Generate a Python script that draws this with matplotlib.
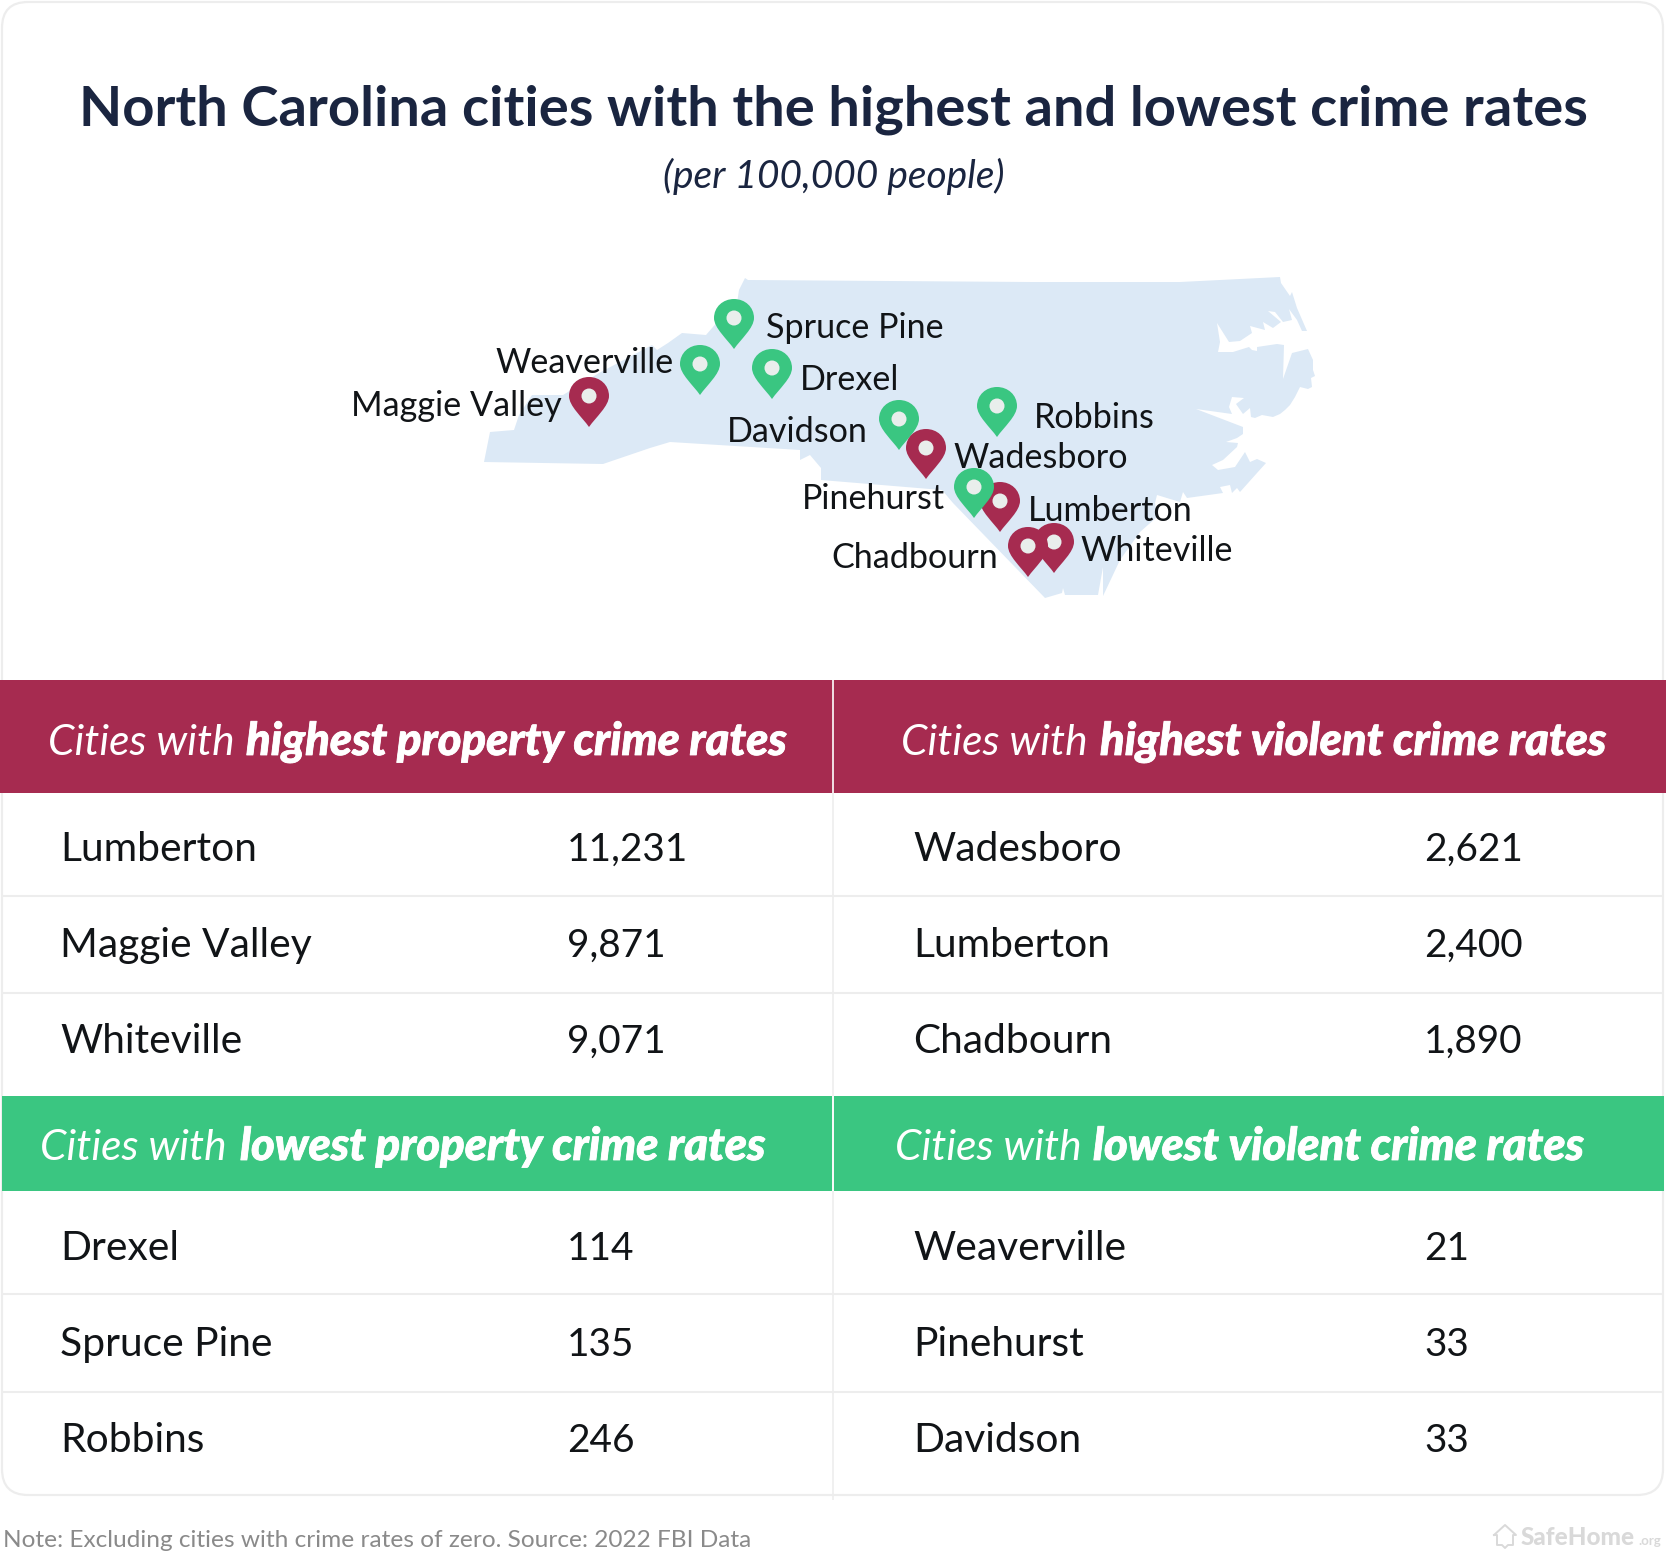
import matplotlib
matplotlib.use('Agg')
import matplotlib.pyplot as plt
import matplotlib.patheffects as pe
from matplotlib.patches import FancyBboxPatch, PathPatch, Polygon, Circle, Rectangle
from matplotlib.path import Path

plt.rcParams['font.family'] = ['Lato', 'DejaVu Sans']

# Table contents
prop_high_cities = ['Lumberton', 'Maggie Valley', 'Whiteville']
prop_high_values = ['11,231', '9,871', '9,071']
viol_high_cities = ['Wadesboro', 'Lumberton', 'Chadbourn']
viol_high_values = ['2,621', '2,400', '1,890']
prop_low_cities = ['Drexel', 'Spruce Pine', 'Robbins']
prop_low_values = ['114', '135', '246']
viol_low_cities = ['Weaverville', 'Pinehurst', 'Davidson']
viol_low_values = ['21', '33', '33']

# Pins on the map (tip of the pin, image pixels), in drawing order
pin_cities = ['Spruce Pine', 'Weaverville', 'Drexel', 'Maggie Valley', 'Robbins', 'Davidson',
              'Wadesboro', 'Lumberton', 'Pinehurst', 'Whiteville', 'Chadbourn']
pin_x = [734, 700, 772, 589, 997, 899, 926, 1000, 974, 1054, 1028]
pin_y = [349, 395, 399, 427, 437, 450, 479, 532, 518, 573, 577]
pin_kind = ['low', 'low', 'low', 'high', 'low', 'low', 'high', 'high', 'low', 'high', 'high']

# Map labels: left edge and baseline
label_x = [766, 495, 800, 351, 1034, 727, 953, 1028, 802, 1080, 831]
label_y = [338, 373, 390, 416, 428, 442, 468, 521, 509, 561, 568]

# North Carolina outline
nc_x = [745, 748, 1030, 1180, 1280, 1281, 1290, 1292, 1297, 1307, 1302, 1297, 1289, 1292, 1283, 1275,
        1268, 1281, 1273, 1263, 1265, 1250, 1252, 1240, 1229, 1217, 1220, 1218, 1233, 1249, 1252, 1257,
        1257, 1277, 1284, 1283, 1292, 1308, 1313, 1313, 1315, 1311, 1312, 1308, 1300, 1295, 1290, 1285,
        1280, 1273, 1262, 1255, 1251, 1250, 1243, 1236, 1244, 1232, 1229, 1232, 1196, 1243, 1243, 1237,
        1226, 1238, 1237, 1223, 1212, 1218, 1235, 1245, 1250, 1257, 1266, 1257, 1240, 1237, 1232, 1230,
        1220, 1223, 1187, 1183, 1180, 1157, 1155, 1157, 1140, 1120, 1112, 1103, 1103, 1098, 1065, 1063,
        1062, 1045, 953, 942, 821, 821, 810, 800, 800, 670, 650, 603, 484, 490, 514, 519, 532, 563, 599,
        652, 657, 668, 682, 706, 719, 737, 739]
nc_y = [278, 280, 282, 282, 277, 283, 296, 292, 308, 331, 331, 320, 309, 320, 322, 312,
        311, 322, 328, 322, 330, 326, 333, 341, 342, 323, 342, 352, 352, 347, 350, 351,
        347, 344, 345, 379, 353, 349, 360, 370, 376, 378, 387, 389, 387, 397, 405, 410,
        414, 417, 415, 418, 417, 408, 414, 404, 398, 397, 407, 414, 409, 427, 434, 438,
        442, 443, 447, 460, 465, 470, 467, 452, 462, 459, 463, 473, 492, 488, 493, 485,
        487, 493, 498, 492, 502, 495, 503, 517, 532, 560, 577, 596, 567, 595, 595, 588,
        593, 598, 503, 490, 480, 468, 455, 460, 450, 442, 448, 464, 462, 432, 430, 415, 395, 395, 373,
        345, 350, 343, 333, 335, 320, 303, 290]

RED = '#A62B50'
GREEN = '#3AC681'
MAP_BLUE = '#DCE9F6'
DOT = '#E9EEEC'
NAVY = '#1A2540'
INK = '#111417'
LINE = '#EDEDED'

NAME_SIZE = 29.3
VALUE_SIZE = 27.9
MAP_SIZE = 24.6
HEADER_SIZE = 30.6
HEADER_BOLD_SIZE = 32.6

# Figure in image pixels, y pointing down
fig = plt.figure(figsize=(16.66, 15.57), dpi=100)
ax = fig.add_axes([0, 0, 1, 1])
ax.set_xlim(0, 1666)
ax.set_ylim(1557, 0)
ax.axis('off')

# Card outline
ax.add_patch(FancyBboxPatch((2, 2), 1661, 1493, boxstyle='round,pad=0,rounding_size=26',
                            fc='white', ec=LINE, lw=1.6))

# Title
ax.text(833, 125, 'North Carolina cities with the highest and lowest crime rates',
        ha='center', va='baseline', fontsize=40.4, fontweight='bold', color=NAVY)
ax.text(834, 188, '(per 100,000 people)', ha='center', va='baseline', fontsize=28,
        style='italic', color=NAVY)

# Map
ax.add_patch(Polygon(list(zip(nc_x, nc_y)), closed=True, fc=MAP_BLUE, ec='none'))


def add_pin(x, y, color):
    # teardrop, tip at (x, y)
    verts = [(0, 0), (-7, -10), (-20, -21), (-20, -31), (-20, -42), (-11, -50), (0, -50),
             (11, -50), (20, -42), (20, -31), (20, -21), (7, -10), (0, 0)]
    codes = [Path.MOVETO] + [Path.CURVE4] * 12
    pts = [(x + dx, y + dy) for dx, dy in verts]
    ax.add_patch(PathPatch(Path(pts, codes), fc=color, ec='none'))
    ax.add_patch(Circle((x, y - 31), 7.5, fc=DOT, ec='none'))


for x, y, kind in zip(pin_x, pin_y, pin_kind):
    add_pin(x, y, RED if kind == 'high' else GREEN)

for name, x, y in zip(pin_cities, label_x, label_y):
    ax.text(x, y, name, ha='left', va='baseline', fontsize=MAP_SIZE, color=INK)

# Header bands
ax.add_patch(Rectangle((0, 680), 1666, 113, fc=RED, ec='none'))
ax.add_patch(Rectangle((2, 1096), 1662, 95, fc=GREEN, ec='none'))

# Grid lines
for y in [896, 993, 1294, 1392]:
    ax.plot([2, 1664], [y, y], color=LINE, lw=1.5, solid_capstyle='butt')
ax.plot([833, 833], [793, 1500], color=LINE, lw=1.2, solid_capstyle='butt')
ax.plot([833, 833], [680, 793], color='white', lw=1.2, solid_capstyle='butt')
ax.plot([833, 833], [1096, 1191], color='white', lw=1.2, solid_capstyle='butt')


def header(x1, x2, y, rest):
    ax.text(x1, y, 'Cities with', ha='left', va='baseline', fontsize=HEADER_SIZE,
            style='italic', color='white')
    t = ax.text(x2, y, rest, ha='left', va='baseline', fontsize=HEADER_BOLD_SIZE,
                style='italic', fontweight='black', color='white')
    t.set_path_effects([pe.withStroke(linewidth=0.6, foreground='white')])


header(48, 246, 755, 'highest property crime rates')
header(901, 1100, 755, 'highest violent crime rates')
header(40, 240, 1160, 'lowest property crime rates')
header(895, 1093, 1160, 'lowest violent crime rates')


def rows(names, values, x_name, x_value, baselines):
    for name, value, y in zip(names, values, baselines):
        ax.text(x_name, y, name, ha='left', va='baseline', fontsize=NAME_SIZE, color=INK)
        ax.text(x_value, y, value, ha='left', va='baseline', fontsize=VALUE_SIZE, color=INK)


upper = [861, 957, 1053]
lower = [1260, 1356, 1452]
rows(prop_high_cities, prop_high_values, 60, 567, upper)
rows(viol_high_cities, viol_high_values, 913, 1424, upper)
rows(prop_low_cities, prop_low_values, 60, 567, lower)
rows(viol_low_cities, viol_low_values, 913, 1424, lower)

# Footer
ax.text(3, 1547, 'Note: Excluding cities with crime rates of zero. Source: 2022 FBI Data',
        ha='left', va='baseline', fontsize=17.6, color='#8A8A8A')

# Logo
logo_grey = '#D9D9D9'
house_x = [1494, 1505, 1516, 1513, 1513, 1508, 1505, 1502, 1497, 1497, 1494]
house_y = [1535, 1525, 1535, 1535, 1545, 1545, 1548, 1545, 1545, 1535, 1535]
ax.plot(house_x, house_y, color=logo_grey, lw=1.4)
ax.text(1521, 1545, 'SafeHome', ha='left', va='baseline', fontsize=17.5, fontweight='black', color=logo_grey)
ax.text(1638, 1545, '.org', ha='left', va='baseline', fontsize=9.5, fontweight='bold', color=logo_grey)

plt.savefig('out.png', dpi=100)
